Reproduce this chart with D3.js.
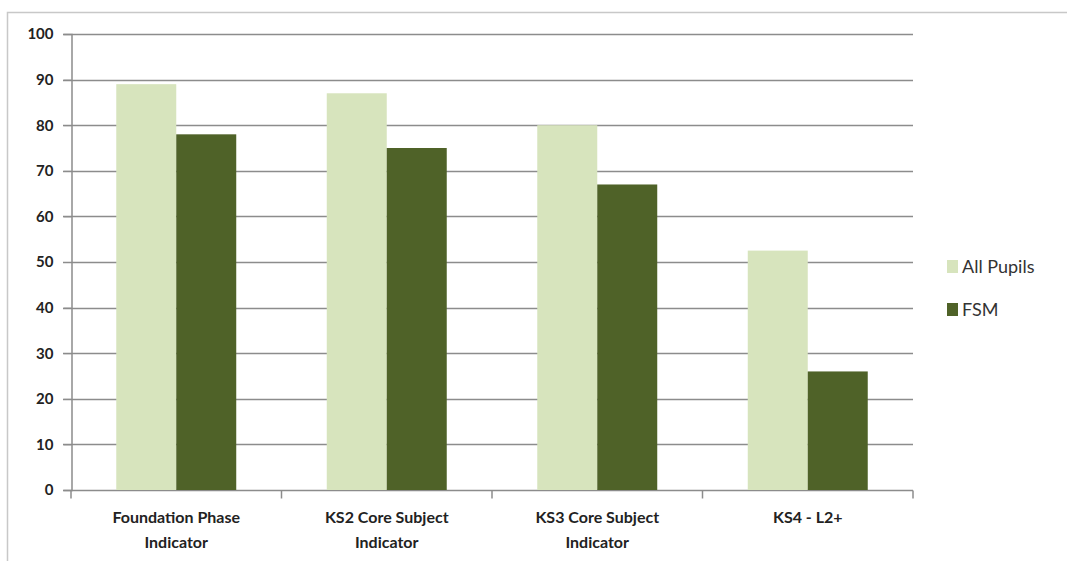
<!DOCTYPE html>
<html>
<head>
<meta charset="utf-8">
<script src="https://cdn.jsdelivr.net/npm/d3@7"></script>
<style>
  body { margin: 0; background: #fff; }
  svg { display: block; font-family: Lato, "Open Sans", sans-serif; }
</style>
</head>
<body>
<div id="chart"></div>
<script>
// categories and series
var categories = [["Foundation Phase", "Indicator"], ["KS2 Core Subject", "Indicator"], ["KS3 Core Subject", "Indicator"], ["KS4 - L2+"]];
var seriesNames = ["All Pupils", "FSM"];
var allPupils = [89, 87, 80, 52.5];
var fsm = [78, 75, 67, 26];
var yTicks = [0, 10, 20, 30, 40, 50, 60, 70, 80, 90, 100];
var colors = ["#d7e4bd", "#4f6228"];

var W = 1067, H = 561;
var plotLeft = 71, plotRight = 913, plotTop = 34, plotBottom = 490;

var svg = d3.select("#chart")
	.append("svg")
	.attr("width", W)
	.attr("height", H);

// outer frame
svg.append("rect")
	.attr("x", 7.5).attr("y", 12.5)
	.attr("width", W).attr("height", H)
	.attr("fill", "none")
	.attr("stroke", "#c8c8c8")
	.attr("stroke-width", 1.5);

var y = d3.scaleLinear().domain([0, 100]).range([plotBottom, plotTop]);
var x0 = d3.scaleBand()
	.domain(d3.range(categories.length))
	.range([plotLeft, plotRight])
	.paddingInner(0.43)
	.paddingOuter(0.215);
var x1 = d3.scaleBand().domain(d3.range(seriesNames.length)).range([0, x0.bandwidth()]);

// gridlines
svg.append("g").selectAll("line")
	.data(yTicks)
	.enter().append("line")
	.attr("x1", plotLeft - 8).attr("x2", plotRight)
	.attr("y1", function(d) { return Math.round(y(d)) + 0.5; })
	.attr("y2", function(d) { return Math.round(y(d)) + 0.5; })
	.attr("stroke", "#8c8c8c")
	.attr("stroke-width", 1.5);

// bars
var values = [allPupils, fsm];
var groups = svg.append("g").selectAll("g")
	.data(categories)
	.enter().append("g")
	.attr("transform", function(d, i) { return "translate(" + x0(i) + ",0)"; });

groups.selectAll("rect")
	.data(function(d, i) { return values.map(function(s, k) { return {k: k, v: s[i]}; }); })
	.enter().append("rect")
	.attr("x", function(d) { return x1(d.k); })
	.attr("y", function(d) { return y(d.v); })
	.attr("width", x1.bandwidth())
	.attr("height", function(d) { return y(0) - y(d.v); })
	.attr("fill", function(d) { return colors[d.k]; });

// y axis
var yAxis = svg.append("g")
	.attr("transform", "translate(" + (plotLeft + 0.5) + ",0)")
	.call(d3.axisLeft(y).tickValues(yTicks).tickSize(8).tickPadding(10));
yAxis.select(".domain").attr("stroke", "#8c8c8c").attr("stroke-width", 1.5);
yAxis.selectAll(".tick line").attr("stroke", "#8c8c8c");
yAxis.selectAll("text")
	.attr("font-family", "Lato, sans-serif")
	.attr("font-size", 15)
	.attr("font-weight", "bold")
	.attr("fill", "#222");

// x axis boundary ticks
var xBase = Math.round(y(0)) + 0.5;
var step = (plotRight - plotLeft) / categories.length;
svg.append("g").selectAll("line")
	.data(d3.range(categories.length + 1))
	.enter().append("line")
	.attr("x1", function(d) { return plotLeft + d * step; })
	.attr("x2", function(d) { return plotLeft + d * step; })
	.attr("y1", xBase).attr("y2", xBase + 8)
	.attr("stroke", "#8c8c8c")
	.attr("stroke-width", 1.5);

// category labels
var labels = svg.append("g").selectAll("text")
	.data(categories)
	.enter().append("text")
	.attr("x", function(d, i) { return x0(i) + x0.bandwidth() / 2; })
	.attr("y", 523)
	.attr("text-anchor", "middle")
	.attr("font-size", 16)
	.attr("font-weight", "bold")
	.attr("fill", "#222");
labels.selectAll("tspan")
	.data(function(d) { return d; })
	.enter().append("tspan")
	.attr("x", function() { return this.parentNode.getAttribute("x"); })
	.attr("dy", function(d, i) { return i ? 25 : 0; })
	.text(function(d) { return d; });

// legend
var legend = svg.append("g").selectAll("g")
	.data(seriesNames)
	.enter().append("g")
	.attr("transform", function(d, i) { return "translate(947," + (261 + i * 43) + ")"; });
legend.append("rect")
	.attr("width", 11).attr("height", 13)
	.attr("y", -1)
	.attr("fill", function(d, i) { return colors[i]; });
legend.append("text")
	.attr("x", 15).attr("y", 12)
	.attr("font-size", 18)
	.attr("fill", "#333")
	.text(function(d) { return d; });
</script>
</body>
</html>
